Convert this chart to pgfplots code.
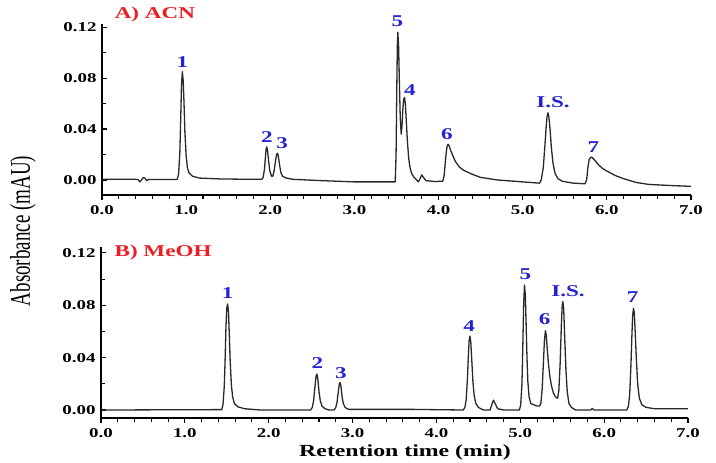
\documentclass[border=0pt]{standalone}
\usepackage{fontspec}
\setmainfont{Liberation Serif}[FakeStretch=1.4]
\newfontfamily\yfont{Liberation Serif}
\usepackage{graphicx}
\usepackage{pgfplots}
\pgfplotsset{compat=1.18}
\definecolor{pkblue}{RGB}{35,35,210}
\definecolor{ttred}{RGB}{235,30,35}
\definecolor{trace}{RGB}{40,40,40}
\tikzset{pk/.style={font=\fontsize{16.5}{17}\selectfont\bfseries, text=pkblue, inner sep=0pt}}
\pgfplotsset{
  chrom/.style={
    scale only axis, width=589pt, height=171pt,
    xmin=0, xmax=7.0,
    axis x line=bottom, axis y line=left,
    axis line style={-, line width=1.2pt, black},
    xtick={0,1,...,7}, minor x tick num=4,
    ytick={0,0.04,0.08,0.12}, minor y tick num=1,
    xtick align=outside, ytick align=inside,
    major tick length=5pt, minor tick length=4pt,
    every tick/.style={black, line width=1.1pt},
    tick label style={font=\fontsize{13.5}{14}\selectfont\bfseries},
    /pgf/number format/assume math mode=true,
    xticklabel style={/pgf/number format/.cd, fixed, fixed zerofill, precision=1},
    yticklabel style={/pgf/number format/.cd, fixed, fixed zerofill, precision=2},
    scaled y ticks=false,
    xticklabel shift=2pt, yticklabel shift=2pt,
    clip=false,
  },
}
\begin{document}
\begin{tikzpicture}[x=1pt,y=1pt]
\useasboundingbox (0,0) rectangle (716,463);
% ---------------- A) ACN ----------------
\begin{axis}[chrom, at={(102pt,268pt)}, anchor=south west,
  ymin=-0.0118, ymax=0.1225]
\addplot[trace, line width=1.3pt, line join=round] coordinates {
(0.00,0.0005) (0.20,0.0005) (0.40,0.0005) (0.43,0.0003) (0.45,-0.0015) (0.47,0.0000)
(0.49,0.0018) (0.51,0.0015) (0.53,-0.0005) (0.55,0.0003) (0.70,0.0004) (0.88,0.0004)
(0.895,0.0005) (0.91,0.0045) (0.925,0.021) (0.935,0.047) (0.945,0.075) (0.955,0.085)
(0.965,0.078) (0.975,0.060) (0.985,0.038) (1.00,0.019) (1.015,0.0095) (1.035,0.0055)
(1.075,0.003) (1.155,0.0015) (1.40,0.0008) (1.80,0.0005)
(1.90,0.0006) (1.915,0.002) (1.93,0.008) (1.94,0.016) (1.95,0.024) (1.958,0.026)
(1.968,0.023) (1.98,0.015) (1.995,0.007) (2.015,0.003) (2.03,0.003) (2.045,0.007)
(2.06,0.014) (2.075,0.020) (2.085,0.021) (2.095,0.019) (2.11,0.012) (2.125,0.006)
(2.145,0.003) (2.19,0.0015) (2.27,0.0005) (2.60,-0.0005) (3.00,-0.0015)
(3.40,-0.0015) (3.485,-0.0015) (3.495,0.020) (3.50,0.050) (3.505,0.080) (3.51,0.105)
(3.516,0.116) (3.525,0.105) (3.535,0.075) (3.545,0.048) (3.556,0.036) (3.565,0.042)
(3.575,0.055) (3.585,0.063) (3.595,0.065) (3.605,0.060) (3.615,0.048) (3.63,0.030)
(3.645,0.017) (3.66,0.010) (3.68,0.005) (3.71,0.002) (3.74,0.000)
(3.76,-0.0015) (3.78,0.001) (3.80,0.004) (3.82,0.002) (3.85,-0.0005) (3.95,-0.0012)
(4.05,-0.0010) (4.065,0.003) (4.075,0.010) (4.09,0.021) (4.10,0.026) (4.112,0.028)
(4.125,0.027) (4.145,0.023) (4.17,0.019) (4.20,0.0145) (4.25,0.010) (4.30,0.0075)
(4.40,0.0045) (4.50,0.002) (4.70,0.000)
(4.90,-0.001) (5.10,-0.002) (5.20,-0.0025) (5.22,0.000) (5.245,0.010) (5.265,0.028)
(5.28,0.043) (5.29,0.050) (5.30,0.0528) (5.31,0.050) (5.325,0.040) (5.34,0.026)
(5.36,0.013) (5.385,0.005) (5.42,0.001) (5.47,-0.001)
(5.60,-0.0025) (5.74,-0.003) (5.76,0.000) (5.775,0.010) (5.79,0.016) (5.805,0.0175)
(5.82,0.018) (5.85,0.016) (5.90,0.012) (5.95,0.009) (6.00,0.007) (6.10,0.0035)
(6.20,0.001) (6.35,-0.002) (6.50,-0.0035) (6.80,-0.0045) (7.00,-0.005)
};
\node[pk] at (axis cs:0.955,0.093) {1};
\node[pk] at (axis cs:1.96,0.034) {2};
\node[pk] at (axis cs:2.14,0.029) {3};
\node[pk] at (axis cs:3.51,0.125) {5};
\node[pk] at (axis cs:3.66,0.0706) {4};
\node[pk] at (axis cs:4.10,0.036) {6};
\node[pk] at (axis cs:5.36,0.061) {I.S.};
\node[pk] at (axis cs:5.84,0.026) {7};
\node[anchor=west, inner sep=0pt, text=ttred, font=\fontsize{16.5}{17}\selectfont\bfseries] at (axis cs:0.150,0.130) {A) ACN};
\end{axis}
% ---------------- B) MeOH ----------------
\begin{axis}[chrom, width=587pt, at={(101pt,45pt)}, anchor=south west,
  ymin=-0.0061, ymax=0.1245]
\addplot[trace, line width=1.3pt, line join=round] coordinates {
(0.00,0.000) (1.44,0.0003) (1.455,0.004) (1.47,0.018) (1.48,0.038) (1.49,0.063)
(1.50,0.078) (1.51,0.081) (1.52,0.075) (1.53,0.058) (1.54,0.038) (1.555,0.019)
(1.57,0.010) (1.59,0.005) (1.63,0.0025) (1.71,0.001) (1.90,0.000)
(2.50,0.000) (2.52,0.002) (2.535,0.007) (2.55,0.017) (2.565,0.026) (2.575,0.0275)
(2.585,0.024) (2.60,0.014) (2.615,0.007) (2.635,0.003) (2.67,0.001) (2.72,0.000)
(2.78,0.000) (2.80,0.002) (2.815,0.006) (2.83,0.014) (2.842,0.020) (2.852,0.021)
(2.862,0.018) (2.875,0.010) (2.89,0.005) (2.91,0.002) (2.95,0.0005) (3.70,0.0005)
(4.32,0.000) (4.34,0.002) (4.355,0.008) (4.37,0.024) (4.38,0.040) (4.39,0.053)
(4.40,0.0565) (4.41,0.052) (4.42,0.040) (4.435,0.022) (4.45,0.011) (4.47,0.005)
(4.50,0.002) (4.56,0.000) (4.64,0.000) (4.66,0.004) (4.68,0.0075) (4.70,0.005)
(4.73,0.001) (4.80,0.000) (4.99,0.000) (5.005,0.004) (5.02,0.020) (5.03,0.048)
(5.04,0.080) (5.05,0.0955) (5.06,0.088) (5.07,0.065) (5.08,0.040) (5.09,0.022)
(5.105,0.010) (5.125,0.005) (5.16,0.004) (5.20,0.003) (5.23,0.003) (5.245,0.005)
(5.26,0.015) (5.275,0.035) (5.287,0.052) (5.30,0.0606) (5.31,0.057) (5.32,0.048)
(5.335,0.036) (5.35,0.027) (5.37,0.019) (5.395,0.013) (5.42,0.010) (5.445,0.009)
(5.46,0.015) (5.475,0.035) (5.49,0.065) (5.50,0.080) (5.508,0.0828) (5.518,0.077)
(5.53,0.055) (5.545,0.030) (5.56,0.014) (5.58,0.005) (5.61,0.002) (5.66,0.000)
(5.84,0.000) (5.86,0.0012) (5.88,0.000) (6.27,0.000) (6.29,0.003) (6.305,0.012)
(6.32,0.035) (6.33,0.055) (6.34,0.072) (6.35,0.0777) (6.36,0.074) (6.37,0.060)
(6.385,0.038) (6.40,0.020) (6.42,0.009) (6.45,0.004) (6.50,0.002) (6.60,0.001)
(6.80,0.001) (7.00,0.001)
};
\node[pk] at (axis cs:1.51,0.089) {1};
\node[pk] at (axis cs:2.58,0.036) {2};
\node[pk] at (axis cs:2.86,0.028) {3};
\node[pk] at (axis cs:4.39,0.064) {4};
\node[pk] at (axis cs:5.06,0.104) {5};
\node[pk] at (axis cs:5.29,0.0695) {6};
\node[pk] at (axis cs:5.57,0.091) {I.S.};
\node[pk] at (axis cs:6.34,0.086) {7};
\node[anchor=west, inner sep=0pt, text=ttred, font=\fontsize{16.5}{17}\selectfont\bfseries] at (axis cs:0.160,0.120) {B) MeOH};
\end{axis}
% axis titles
\node[font=\fontsize{17}{18}\selectfont\bfseries, inner sep=0pt] at (405,11) {Retention time (min)};
\node[inner sep=0pt] at (23,232) {\rotatebox{90}{\scalebox{1}[1.5]{\yfont\fontsize{19}{20}\selectfont Absorbance (mAU)}}};
\end{tikzpicture}
\end{document}
